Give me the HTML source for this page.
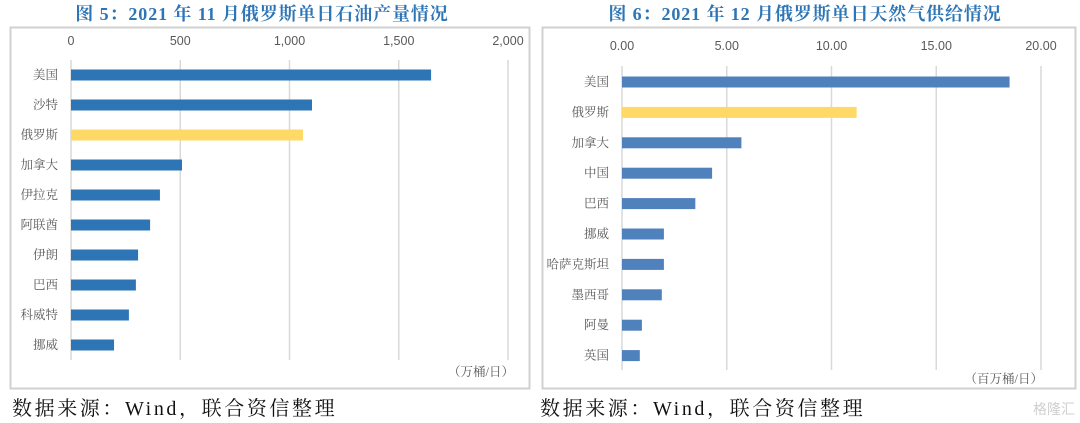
<!DOCTYPE html>
<html><head><meta charset="utf-8">
<style>
html,body{margin:0;padding:0;background:#fff;width:1080px;height:423px;overflow:hidden}
svg{display:block}
.t{font-family:"Liberation Serif","Noto Serif CJK SC",serif;font-weight:bold;font-size:18px;fill:#2e75b6;letter-spacing:0.9px}
.f{font-family:"Liberation Serif","Noto Serif CJK SC",serif;font-size:20px;fill:#111;letter-spacing:2.6px}
.tk{font-family:"Liberation Sans","Noto Sans CJK SC",sans-serif;font-size:12.5px;fill:#595959}
.lb{font-family:"Liberation Serif","Noto Serif CJK SC",serif;font-size:12.5px;fill:#595959}
</style></head>
<body>
<svg id="svg" width="1080" height="423" viewBox="0 0 1080 423" xmlns="http://www.w3.org/2000/svg">
<text class="t" x="262" y="20" text-anchor="middle">图 5：2021 年 11 月俄罗斯单日石油产量情况</text>
<text class="t" x="805" y="20" text-anchor="middle">图 6：2021 年 12 月俄罗斯单日天然气供给情况</text>
<rect x="10.5" y="27.5" width="519" height="361" fill="none" stroke="#d0d0d0" stroke-width="2"/>
<rect x="542.5" y="27.5" width="533" height="361" fill="none" stroke="#d0d0d0" stroke-width="2"/>
<g id="left"></g>
<g id="right"></g>
<text class="lb" x="514" y="376" text-anchor="end">（万桶/日）</text>
<text class="lb" x="1043" y="383" text-anchor="end">（百万桶/日）</text>
<text class="f" x="12" y="415">数据来源：Wind，联合资信整理</text>
<text class="f" x="540" y="415">数据来源：Wind，联合资信整理</text>
<text x="1075" y="414" text-anchor="end" font-family="Liberation Sans,Noto Sans CJK SC,sans-serif" font-size="14" fill="#cfcfcf">格隆汇</text>
</svg>
<script>
const oilCats=["美国","沙特","俄罗斯","加拿大","伊拉克","阿联酋","伊朗","巴西","科威特","挪威"];
const oilVals=[1648,1103,1062,508,407,362,307,297,265,197];
const oilTicks=[0,500,1000,1500,2000];
const oilTickLabels=["0","500","1,000","1,500","2,000"];
const gasCats=["美国","俄罗斯","加拿大","中国","巴西","挪威","哈萨克斯坦","墨西哥","阿曼","英国"];
const gasVals=[18.5,11.2,5.7,4.3,3.5,2.0,2.0,1.9,0.95,0.85];
const gasTicks=[0,5,10,15,20];
const gasTickLabels=["0.00","5.00","10.00","15.00","20.00"];
const NS="http://www.w3.org/2000/svg";
function mk(tag,attrs,parent,txt){const e=document.createElementNS(NS,tag);for(const k in attrs)e.setAttribute(k,attrs[k]);if(txt!=null)e.textContent=txt;parent.appendChild(e);return e;}
function chart(g,cats,vals,ticks,labels,o){
  const x=v=>o.x0+(v-ticks[0])/(ticks[ticks.length-1]-ticks[0])*(o.x1-o.x0);
  const y=i=>o.y0+i*o.step;
  ticks.forEach((t,i)=>{
    const l=mk('line',{x1:x(t),x2:x(t),y1:o.gTop,y2:o.gBot,stroke:'#d9d9d9','stroke-width':1.5},g);
    
    
    const tx=mk('text',{x:x(t),y:o.tickY,'text-anchor':'middle',class:'tk'},g,labels[i]);
    
    
  });
  cats.forEach((c,i)=>{
    const r=mk('rect',{x:x(0),y:y(i)-5.5,width:Math.max(0,x(vals[i])-x(0)),height:11,fill:c==="俄罗斯"?'#ffd966':o.color},g);
    
    
    const t=mk('text',{x:o.x0-13,y:y(i)+4,'text-anchor':'end',class:'lb'},g,c);
    
    
  });
}
chart(document.getElementById('left'),oilCats,oilVals,oilTicks,oilTickLabels,{x0:71,x1:508,y0:75,step:30,gTop:60,gBot:360,tickY:45,color:'#2e75b6'});
chart(document.getElementById('right'),gasCats,gasVals,gasTicks,gasTickLabels,{x0:622,x1:1041,y0:82,step:30.4,gTop:66,gBot:370,tickY:50,color:'#4f81bd'});
</script>
</body></html>
